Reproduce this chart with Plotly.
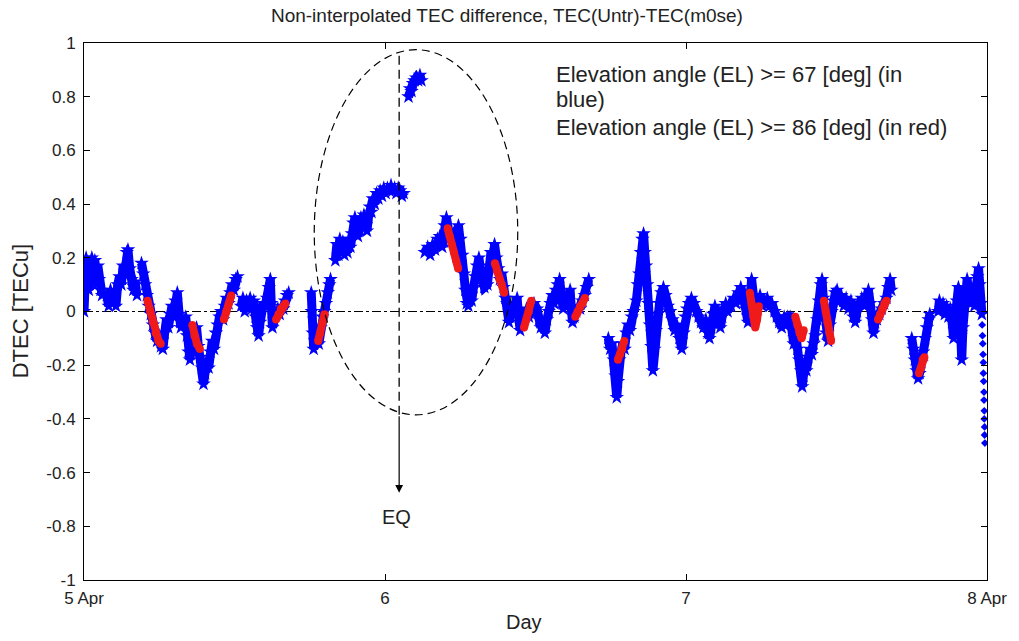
import plotly.graph_objects as go

# ---------------- data (day, DTEC [TECu]) ----------------
# Blue: EL >= 67 deg ; None separates data gaps
blue_day = [
    5.000,5.003,5.007,5.012,5.016,5.020,5.026,5.031,5.036,5.041,5.046,5.050,5.055,5.060, None,
    5.076,5.082,5.088,5.094,5.100,5.106,5.112,5.118,5.124,5.130,5.136,5.142,5.146,5.152,5.158,5.164,5.170,5.176, None,
    5.191,5.197,5.203,5.209,5.215,5.222,5.229,5.236,5.243,5.250,5.256,5.262,5.268,5.274,5.280,5.286,5.292,5.298,5.304,5.310,5.316,5.322, None,
    5.338,5.342,5.347,5.352,5.357,5.362,5.368,5.374,5.380,5.386,5.392,5.397,5.402,5.408,5.414,5.420,5.426,5.432,5.438,5.444,5.450,5.456,5.462,5.468,5.474,5.480,5.486,5.492,5.498,5.504,5.510, None,
    5.522,5.528,5.534,5.540,5.546,5.552,5.558,5.564,5.570,5.575,5.580,5.585,5.590,5.596,5.602,5.608,5.614,5.619,5.622,5.626,
    5.632,5.638,5.644,5.650,5.656,5.662,5.668,5.674,5.680, None,
    5.755,5.757,5.760,5.763,5.768,5.774,5.780,5.786,5.792,5.798,5.804,5.810,5.815,5.819, None,
    5.835,5.840,5.845,5.850,5.855,5.860,5.865,5.870,5.875,5.880,5.885,5.890,5.895,5.900,5.905,5.910,5.915,5.920,5.925,5.930,5.935,5.940,5.945,5.950,5.955,
    5.960,5.966,5.972,5.978,5.984,5.990,5.996,6.002,6.008,6.014,6.020,6.026,6.032,6.038,6.044,6.050,6.056,6.062, None,
    6.078,6.083,6.088,6.093,6.098,6.104,6.110,6.116,6.121, None,
    6.132,6.142,6.150,6.158,6.166,6.174,6.182,6.190,6.198,6.204,6.212,6.220,6.228,6.236,6.244,6.251,6.257,6.262,6.267,6.272,6.277,6.282,6.288,6.294,6.300,6.306,6.312,6.318,6.324,6.330,
    6.340,6.346,6.352,6.358,6.364,6.370,6.376,6.382,6.388,6.394,6.400,6.406,6.412,6.418,6.425,6.432,6.439,6.444,6.449,6.455,6.462,6.470,6.478,6.486,6.495,
    6.505,6.512,6.518,6.524,6.531,6.538,6.544,6.550,6.556,6.562,6.568,6.574,6.580,6.586,6.592,6.598,6.604,6.610,6.615,6.619,6.623,6.629,6.635,6.641,6.648,6.656,6.664,6.670,6.677, None,
    6.742,6.748,6.754,6.760,6.766,6.770,6.774,6.778,6.784,6.790,6.796,6.802,6.808,6.814,6.820,6.826,
    6.835,6.840,6.845,6.850,6.855,6.859,6.863,6.867,6.871,6.875,6.880,6.885,6.890,6.895,6.900,6.906,6.912,6.918,6.925,6.932,6.940,6.947,6.955,6.962,6.970,6.978,6.986,6.992,6.998,7.004,7.010,7.018,7.026,7.034,7.042,7.050,7.058,
    7.066,7.072,7.078,7.084,7.090,7.096,7.102,7.108,7.114,7.120,7.126,7.132,7.138,7.144,
    7.150,7.158,7.166,7.174,7.182,7.190,7.198,7.206,7.212,7.218,7.224,7.230,7.238,7.246,7.254,7.262,
    7.270,7.278,7.286,7.294,7.302,7.310,7.318,7.326,7.332,7.338,
    7.346,7.352,7.358,7.364,7.370,7.376,7.382,7.386,7.390,7.395,7.400,7.406,7.412,7.418,7.424,7.430,7.436,7.442,7.448,7.452,7.456,7.460,7.466,7.472,7.478,7.484,7.490,7.496,
    7.502,7.508,7.516,7.524,7.532,7.540,7.548,7.556,7.562,7.568,7.576,7.584,7.592,7.600,7.606,7.612,7.618,7.623,7.628,7.634,7.642,7.650,7.658,7.666,7.672,7.678,7.682, None,
    7.750,7.755,7.760,7.766,7.771,7.776,7.782,7.788,7.794,7.800,7.806,7.810, None,
    7.838,7.842,7.848,7.854,7.860,7.866,7.872,7.878,7.884,7.889,7.894,7.900,7.905,7.909,7.913,7.916,7.920,7.925,7.930,7.934,7.940,7.946,7.952,7.958,7.963,7.968,7.972,7.976,7.980,7.983,
]
blue_dtec = [
    0.00,0.12,0.20,0.16,0.08,0.12,0.20,0.14,0.19,0.10,0.17,0.12,0.08,0.06, None,
    0.06,0.02,0.08,0.03,0.07,0.02,0.10,0.13,0.10,0.17,0.15,0.22,0.23,0.16,0.12,0.08,0.11,0.06, None,
    0.18,0.14,0.10,0.06,0.02,-0.01,-0.05,-0.08,-0.11,-0.09,-0.13,-0.14,-0.08,-0.03,-0.06,-0.01,0.02,-0.02,0.04,0.07,-0.01,-0.06, None,
    -0.02,-0.09,-0.15,-0.18,-0.12,-0.07,-0.10,-0.06,-0.13,-0.17,-0.21,-0.27,-0.23,-0.18,-0.21,-0.15,-0.11,-0.14,-0.08,-0.05,-0.02,0.00,-0.03,0.02,0.05,0.03,0.07,0.10,0.08,0.12,0.13, None,
    0.02,0.05,0.00,0.04,0.02,0.05,0.01,0.04,-0.02,-0.06,-0.09,-0.04,0.01,0.03,0.02,0.05,0.09,0.12,0.03,-0.06,
    -0.03,-0.01,0.01,-0.01,0.02,0.01,0.04,0.06,0.07, None,
    0.07,0.00,-0.08,-0.14,-0.11,-0.07,-0.12,-0.06,-0.02,0.00,0.03,0.07,0.10,0.12, None,
    0.19,0.25,0.21,0.27,0.22,0.26,0.21,0.25,0.22,0.27,0.24,0.29,0.33,0.35,0.31,0.28,0.31,0.35,0.32,0.36,0.33,0.30,0.35,0.39,0.37,
    0.42,0.40,0.44,0.42,0.45,0.43,0.46,0.44,0.46,0.45,0.47,0.45,0.46,0.44,0.46,0.45,0.43,0.44, None,
    0.80,0.83,0.82,0.85,0.86,0.87,0.86,0.88,0.86, None,
    0.22,0.24,0.21,0.25,0.23,0.27,0.28,0.24,0.32,0.35,0.30,0.26,0.29,0.25,0.32,0.27,0.21,0.14,0.08,0.03,0.02,0.06,0.04,0.09,0.13,0.17,0.20,0.15,0.11,0.09,
    0.10,0.17,0.22,0.19,0.25,0.20,0.16,0.12,0.14,0.09,0.05,0.03,-0.04,0.00,0.03,0.01,0.05,-0.02,-0.07,-0.04,-0.01,0.01,-0.02,0.00,0.03,
    0.01,-0.03,-0.06,-0.04,-0.08,-0.03,0.00,0.03,0.06,0.03,0.08,0.10,0.12,0.06,0.01,0.03,0.06,0.04,0.08,0.01,-0.04,-0.02,0.00,0.02,0.01,0.04,0.06,0.09,0.12, None,
    -0.10,-0.14,-0.12,-0.18,-0.24,-0.32,-0.26,-0.18,-0.15,-0.12,-0.14,-0.08,-0.05,-0.07,-0.02,0.00,
    0.04,0.10,0.14,0.22,0.27,0.29,0.22,0.17,0.10,0.03,-0.05,-0.13,-0.22,-0.14,-0.07,-0.01,0.03,0.07,0.09,0.06,0.02,0.00,-0.03,-0.07,-0.05,-0.10,-0.14,-0.08,-0.02,0.01,0.03,0.05,0.03,0.00,-0.02,-0.04,-0.06,
    -0.03,-0.08,-0.10,-0.06,-0.01,0.02,-0.01,-0.04,-0.06,-0.02,0.01,0.03,0.00,0.02,
    0.02,0.05,0.03,0.07,0.09,0.06,0.01,-0.04,0.04,0.12,0.06,-0.02,0.03,0.06,0.02,0.04,
    0.05,0.02,0.03,0.00,-0.02,-0.04,-0.06,-0.02,-0.05,-0.02,
    -0.02,-0.07,-0.12,-0.08,-0.14,-0.18,-0.22,-0.28,-0.24,-0.19,-0.22,-0.17,-0.14,-0.16,-0.12,-0.09,-0.03,0.04,0.10,0.12,0.05,-0.02,-0.08,-0.11,-0.05,0.00,0.04,0.07,
    0.08,0.04,0.06,0.02,0.05,0.01,0.04,-0.02,-0.04,0.00,0.03,0.05,0.02,0.06,0.08,0.03,-0.03,-0.08,-0.04,-0.03,-0.01,0.01,0.03,0.05,0.09,0.12,0.08, None,
    -0.10,-0.14,-0.18,-0.22,-0.25,-0.23,-0.19,-0.15,-0.10,-0.06,-0.03,-0.01, None,
    0.00,0.04,0.01,0.03,-0.01,0.02,-0.02,0.01,-0.04,-0.10,-0.03,0.04,0.09,0.03,-0.08,-0.18,-0.06,0.04,0.09,0.12,0.07,0.03,0.05,0.02,0.08,0.13,0.16,0.10,0.03,-0.01,
]

# Red: EL >= 86 deg
red_day = [
    5.211,5.220,5.229,5.238,5.248,5.255, None,
    5.360,5.367,5.375,5.385, None,
    5.465,5.473,5.481,5.489, None,
    5.638,5.646,5.654,5.662,5.669, None,
    5.778,5.785,5.792,5.799, None,
    6.208,6.215,6.222,6.229,6.236,6.243, None,
    6.365,6.372,6.380,6.388,6.396, None,
    6.462,6.470,6.478,6.486, None,
    6.632,6.640,6.648,6.656,6.664, None,
    6.774,6.781,6.788,6.795, None,
    7.212,7.218,7.224,7.230,7.236,7.242, None,
    7.363,7.370,7.377,7.384,7.391, None,
    7.458,7.464,7.470,7.476,7.482, None,
    7.638,7.645,7.652,7.659,7.666, None,
    7.774,7.780,7.786,7.792,
]
red_dtec = [
    0.04,0.00,-0.04,-0.08,-0.11,-0.12, None,
    -0.05,-0.09,-0.12,-0.14, None,
    -0.03,0.00,0.03,0.06, None,
    -0.03,-0.01,0.01,0.02,0.03, None,
    -0.11,-0.08,-0.04,-0.01, None,
    0.31,0.28,0.25,0.22,0.19,0.16, None,
    0.18,0.15,0.12,0.10,0.07, None,
    -0.06,-0.03,0.00,0.04, None,
    -0.02,0.00,0.02,0.03,0.05, None,
    -0.18,-0.16,-0.14,-0.11, None,
    0.07,0.03,-0.02,-0.06,-0.03,0.02, None,
    -0.02,-0.05,-0.08,-0.10,-0.07, None,
    0.04,0.00,-0.04,-0.08,-0.11, None,
    -0.03,-0.01,0.01,0.03,0.04, None,
    -0.23,-0.21,-0.18,-0.17,
]

# sparse blue samples at the end of the record
tail_day = [7.984,7.985,7.986,7.987,7.988,7.988,7.989,7.990,7.990,7.991,7.991,7.992,7.992,7.993]
tail_dtec = [-0.05,-0.09,-0.12,-0.16,-0.19,-0.23,-0.26,-0.30,-0.33,-0.37,-0.40,-0.43,-0.46,-0.49]

assert len(blue_day) == len(blue_dtec)
assert len(red_day) == len(red_dtec)
assert len(tail_day) == len(tail_dtec)

x_tickvals = [5, 6, 7, 8]
x_ticktext = ["5 Apr", "6", "7", "8 Apr"]
y_tickvals = [-1, -0.8, -0.6, -0.4, -0.2, 0, 0.2, 0.4, 0.6, 0.8, 1]
y_ticktext = ["-1", "-0.8", "-0.6", "-0.4", "-0.2", "0", "0.2", "0.4", "0.6", "0.8", "1"]

eq_day = 6.047
ellipse_day = (5.765, 6.441)
ellipse_dtec = (-0.385, 0.975)

FONT = "Liberation Sans, Arial, Helvetica, sans-serif"
BLUE = "#0000FF"
RED = "#F01A1A"
TXT = "#222222"

fig = go.Figure()
fig.add_trace(go.Scatter(
    x=blue_day, y=blue_dtec, mode="lines+markers",
    line=dict(color=BLUE, width=9),
    marker=dict(symbol="star", size=11, color=BLUE),
    hoverinfo="skip", showlegend=False))
fig.add_trace(go.Scatter(
    x=tail_day, y=tail_dtec, mode="markers",
    marker=dict(symbol="diamond", size=6, color=BLUE),
    hoverinfo="skip", showlegend=False))
fig.add_trace(go.Scatter(
    x=red_day, y=red_dtec, mode="lines+markers",
    line=dict(color=RED, width=8),
    marker=dict(symbol="circle", size=8, color=RED),
    hoverinfo="skip", showlegend=False))

# zero reference line (dash-dot), under the data
fig.add_shape(type="line", x0=5, x1=8, y0=0, y1=0, xref="x", yref="y",
              line=dict(color="black", width=1, dash="dashdot"), layer="below")
# ellipse around EQ
fig.add_shape(type="circle", xref="x", yref="y",
              x0=ellipse_day[0], x1=ellipse_day[1], y0=ellipse_dtec[0], y1=ellipse_dtec[1],
              line=dict(color="black", width=1.2, dash="8px,5px"))
# vertical dashed line at EQ time
fig.add_shape(type="line", xref="x", yref="y", x0=eq_day, x1=eq_day,
              y0=ellipse_dtec[0], y1=0.96,
              line=dict(color="black", width=1.3, dash="9px,5px"))

annotations = [
    dict(x=eq_day, y=-0.675, ax=eq_day, ay=ellipse_dtec[0], xref="x", yref="y",
         axref="x", ayref="y", text="", showarrow=True, arrowhead=2, arrowsize=1.3,
         arrowwidth=1.2, arrowcolor="black"),
    dict(x=eq_day - 0.01, y=-0.765, xref="x", yref="y", text="EQ", showarrow=False,
         font=dict(size=20, color=TXT, family=FONT)),
    dict(x=6.56, y=0.881, xref="x", yref="y", xanchor="left", yanchor="middle",
         text="Elevation angle (EL) >= 67 [deg] (in", showarrow=False,
         font=dict(size=22, color=TXT, family=FONT)),
    dict(x=6.56, y=0.788, xref="x", yref="y", xanchor="left", yanchor="middle",
         text="blue)", showarrow=False,
         font=dict(size=22, color=TXT, family=FONT)),
    dict(x=6.56, y=0.687, xref="x", yref="y", xanchor="left", yanchor="middle",
         text="Elevation angle (EL) >= 86 [deg] (in red)", showarrow=False,
         font=dict(size=22, color=TXT, family=FONT)),
    dict(x=-0.070, y=0.5, xref="paper", yref="paper", xanchor="center", yanchor="middle",
         text="DTEC [TECu]", textangle=-90, showarrow=False,
         font=dict(size=22, color=TXT, family=FONT)),
    dict(x=0.487, y=-0.078, xref="paper", yref="paper", xanchor="center", yanchor="middle",
         text="Day", showarrow=False,
         font=dict(size=20, color=TXT, family=FONT)),
]

fig.update_layout(
    width=1019, height=641,
    margin=dict(l=84, r=26, t=43, b=61),
    paper_bgcolor="white", plot_bgcolor="white",
    title=dict(text="Non-interpolated TEC difference, TEC(Untr)-TEC(m0se)",
               x=0.4975, xanchor="center", y=1 - 15 / 641, yanchor="middle",
               yref="container", font=dict(size=19, color=TXT, family=FONT)),
    annotations=annotations,
    showlegend=False,
)
fig.update_xaxes(range=[5, 8], tickvals=x_tickvals, ticktext=x_ticktext,
                 ticks="inside", ticklen=6, tickcolor="black", showline=True,
                 linecolor="black", linewidth=1, mirror="ticks", showgrid=False,
                 zeroline=False, ticklabelstandoff=3,
                 tickfont=dict(size=17, color=TXT, family=FONT))
fig.update_yaxes(range=[-1, 1], tickvals=y_tickvals, ticktext=y_ticktext,
                 ticks="inside", ticklen=6, tickcolor="black", showline=True,
                 linecolor="black", linewidth=1, mirror="ticks", showgrid=False,
                 zeroline=False, ticklabelstandoff=4,
                 tickfont=dict(size=17, color=TXT, family=FONT))

fig.write_html("out.html")
